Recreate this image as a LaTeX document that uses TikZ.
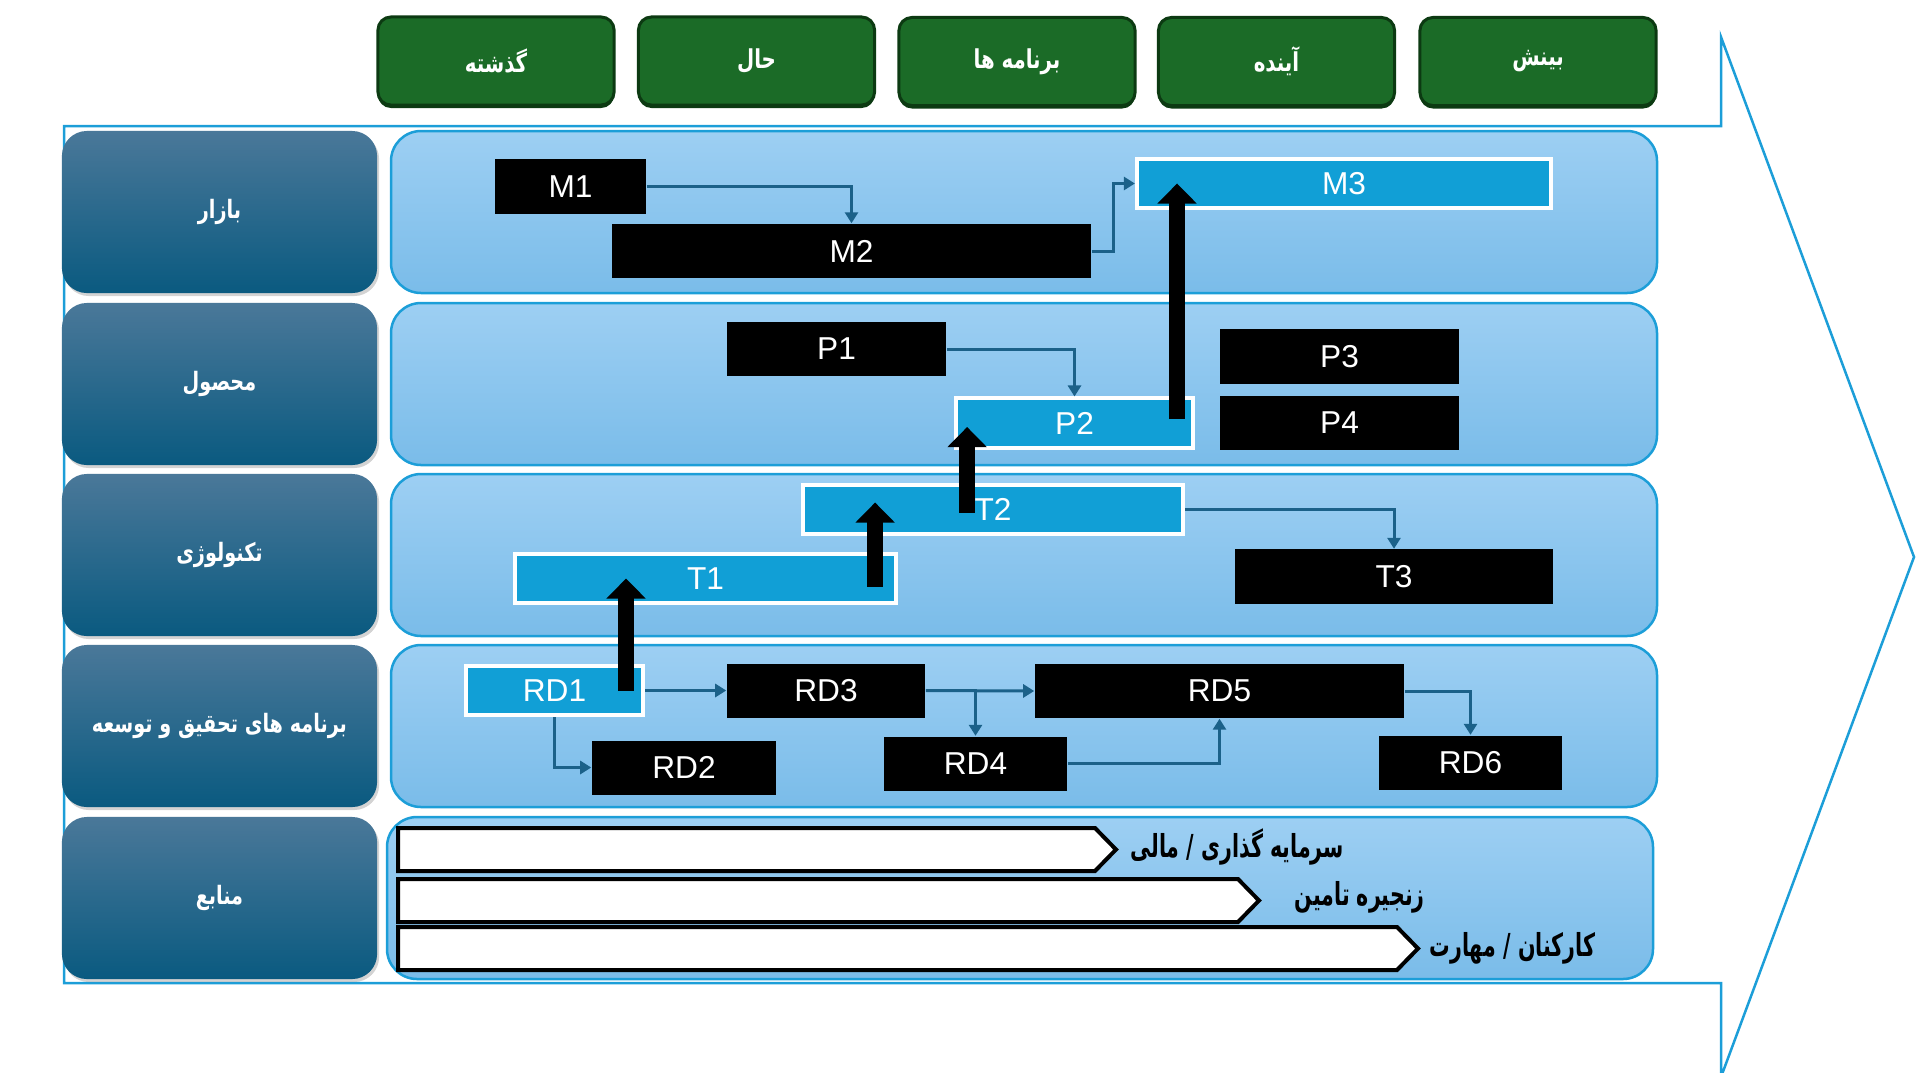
\documentclass[tikz,border=0pt]{standalone}
\usepackage{fontspec}
\setmainfont{Liberation Sans}
\newfontfamily\farsi[Script=Arabic,FakeStretch=0.76]{DejaVu Sans}
\newfontfamily\farsitight[Script=Arabic,FakeStretch=0.65]{DejaVu Sans}
\TeXXeTstate=1
\usetikzlibrary{arrows.meta,calc,shadows}

\definecolor{hdrgreen}{HTML}{1B6B27}
\definecolor{hdredge}{HTML}{0C3A12}
\definecolor{labtop}{HTML}{4A7899}
\definecolor{labbot}{HTML}{0A5A80}
\definecolor{lanetop}{HTML}{9DCFF3}
\definecolor{lanebot}{HTML}{7ABCE9}
\definecolor{laneedge}{HTML}{1C9ED8}
\definecolor{stepblue}{HTML}{119FD6}
\definecolor{linkcol}{HTML}{1B6189}

\tikzset{
  outline/.style={draw=laneedge, line width=0.025cm},
  hdr/.style={draw=hdredge, line width=0.03cm, fill=hdrgreen, rounded corners=0.13cm,
    minimum width=2.36cm, minimum height=0.88cm, text=white,
    font=\farsi\bfseries\fontsize{7.4}{9}\selectfont,
    drop shadow={shadow xshift=0cm, shadow yshift=-0.03cm, fill=hdredge, opacity=1}},
  rowlab/.style={top color=labtop, bottom color=labbot, rounded corners=0.25cm,
    minimum width=3.15cm, minimum height=1.62cm, text=white,
    font=\farsi\bfseries\fontsize{7.2}{9}\selectfont,
    drop shadow={shadow xshift=0.02cm, shadow yshift=-0.03cm, opacity=0.35}},
  lane/.style={top color=lanetop, bottom color=lanebot, draw=laneedge,
    line width=0.025cm, rounded corners=0.3cm},
  blackbox/.style={fill=black, text=white, minimum height=0.54cm, inner sep=0pt,
    font=\fontsize{9}{11}\selectfont},
  bluebox/.style={fill=stepblue, draw=white, line width=0.04cm, text=white,
    minimum height=0.49cm, inner sep=0pt, font=\fontsize{9}{11}\selectfont},
  link/.style={draw=linkcol, line width=0.03cm, -{Triangle[width=0.13cm,length=0.11cm]}},
  lift/.style={draw=black, line width=0.16cm, -{Triangle[width=0.38cm,length=0.2cm]}},
  bar/.style={draw=black, fill=white, line width=0.04cm},
  restext/.style={anchor=west, inner sep=0pt, text=black,
    font=\farsitight\bfseries\fontsize{9}{11}\selectfont}
}

\begin{document}
\begin{tikzpicture}[x=0.01cm, y=-0.01cm]
  \useasboundingbox (0,0) rectangle (1918,1072);
  \clip (0,0) rectangle (1918,1072);

  % Outline arrow
  \draw[outline] (64,126) -- (1721,126) -- (1721,37) -- (1914,557)
    -- (1721,1077) -- (1721,983) -- (64,983) -- cycle;

  % Time headers
  \node[hdr] (past) at (496,61) {\beginR گذشته\endR};
  \node[hdr] (now) at (756.5,61) {\beginR حال\endR};
  \node[hdr] (plans) at (1017,61.5) {\beginR برنامه ها\endR};
  \node[hdr] (future) at (1276.5,61.5) {\beginR آینده\endR};
  \node[hdr] (vision) at (1538,61.5) {\beginR بینش\endR};

  % Lanes
  \foreach \x/\y in {391/131, 391/303, 391/474, 391/645, 387/817}
    \shade[lane] (\x,\y) rectangle ++(1266,162);

  % Row labels
  \node[rowlab] (market) at (219.5,212) {\beginR بازار\endR};
  \node[rowlab] (product) at (219.5,384) {\beginR محصول\endR};
  \node[rowlab] (tech) at (219.5,555) {\beginR تکنولوژی\endR};
  \node[rowlab] (rnd) at (219.5,726) {\beginR برنامه های تحقیق و توسعه\endR};
  \node[rowlab] (res) at (219.5,898) {\beginR منابع\endR};

  % Market
  \node[blackbox, minimum width=1.51cm] (M1) at (570.5,186.5) {M1};
  \node[blackbox, minimum width=4.79cm] (M2) at (851.5,251) {M2};
  \node[bluebox, minimum width=4.14cm] (M3) at (1344,183.5) {M3};

  % Product
  \node[blackbox, minimum width=2.19cm] (P1) at (836.5,349) {P1};
  \node[bluebox, minimum width=2.37cm] (P2) at (1074.5,423) {P2};
  \node[blackbox, minimum width=2.39cm] (P3) at (1339.5,356.5) {P3};
  \node[blackbox, minimum width=2.39cm] (P4) at (1339.5,423) {P4};

  % Technology
  \node[bluebox, minimum width=3.81cm] (T1) at (705.5,578.5) {T1};
  \node[bluebox, minimum width=3.80cm] (T2) at (993,509.5) {T2};
  \node[blackbox, minimum width=3.18cm] (T3) at (1394,576.5) {T3};

  % R&D
  \node[bluebox, minimum width=1.77cm] (RD1) at (554.5,690.5) {RD1};
  \node[blackbox, minimum width=1.84cm] (RD2) at (684,767.5) {RD2};
  \node[blackbox, minimum width=1.98cm] (RD3) at (826,690.5) {RD3};
  \node[blackbox, minimum width=1.83cm] (RD4) at (975.5,763.5) {RD4};
  \node[blackbox, minimum width=3.69cm] (RD5) at (1219.5,691) {RD5};
  \node[blackbox, minimum width=1.83cm] (RD6) at (1470.5,762.5) {RD6};

  % Links
  \draw[link] (M1.east) -| (M2.north);
  \draw[link] (M2.east) -- ++(22,0) |- (M3.west);
  \draw[link] (P1.east) -| (P2.north);
  \draw[link] (T2.east) -| (T3.north);
  \draw[link] (RD1.east) -- (RD3.west);
  \draw[link] (RD1.south) |- (RD2.west);
  \draw[link] (RD3.east) -- (RD5.west);
  \draw[link] (RD3.east) -| (RD4.north);
  \draw[link] (RD4.east) -| (RD5.south);
  \draw[link] (RD5.east) -| (RD6.north);

  % Lifts between rows
  \draw[lift] ($(RD1.east)+(-19,0)$) coordinate (l1) -- (l1 |- T1.center);
  \draw[lift] ($(T1.east)+(-23,8)$) coordinate (l2) -- ($(l2 |- T2.center)+(0,-7)$);
  \draw[lift] ($(T2.east)+(-218,3)$) coordinate (l3) -- ($(l3 |- P2.center)+(0,4)$);
  \draw[lift] ($(P2.east)+(-18,-4)$) coordinate (l4) -- (l4 |- M3.center);

  % Resources
  \foreach \y/\s in {828/1095, 879/1238, 927/1397}
    \draw[bar] (398,\y) -- (\s,\y) -- (\s+21,\y+21.5) -- (\s,\y+43) -- (398,\y+43) -- cycle;
  \node[restext] (fin) at (1130,847) {\beginR سرمایه گذاری / مالی\endR};
  \node[restext] (supply) at (1294,897) {\beginR زنجیره تامین\endR};
  \node[restext] (staff) at (1429,948) {\beginR کارکنان / مهارت\endR};
\end{tikzpicture}
\end{document}
